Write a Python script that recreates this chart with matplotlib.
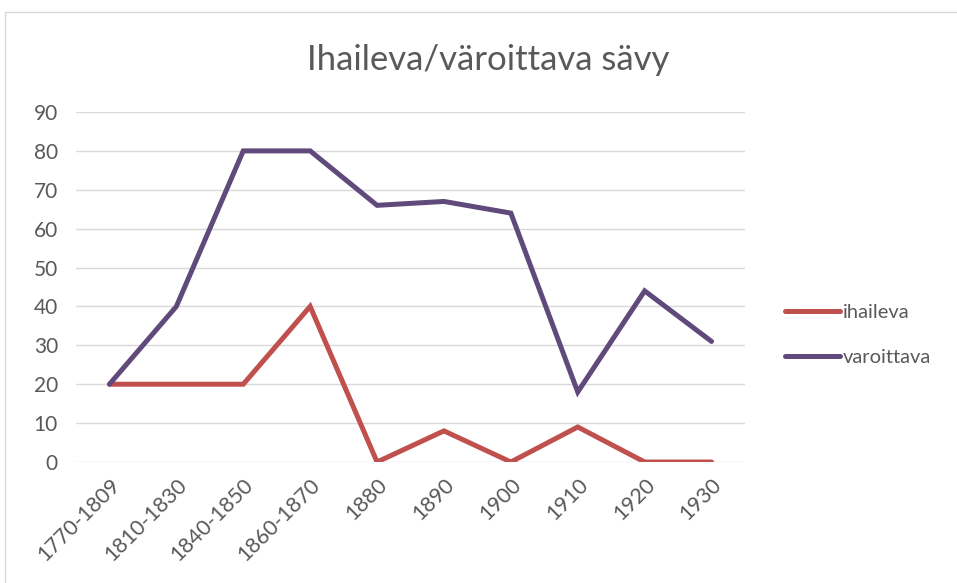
import matplotlib.pyplot as plt
from matplotlib.patches import Rectangle

categories = ["1770-1809", "1810-1830", "1840-1850", "1860-1870", "1880",
              "1890", "1900", "1910", "1920", "1930"]
ihaileva = [20, 20, 20, 40, 0, 8, 0, 9, 0, 0]
varoittava = [20, 40, 80, 80, 66, 67, 64, 18, 44, 31]

plt.rcParams['font.family'] = ['Lato', 'DejaVu Sans']
txt = '#595959'

fig = plt.figure(figsize=(9.57, 5.83), dpi=100)
# chart frame
fig.patches.append(Rectangle((5/957, -0.1), 1.1, (583-12)/583 + 0.1, transform=fig.transFigure,
                             fill=False, edgecolor='#D9D9D9', linewidth=1))
ax = fig.add_axes([76/957, (583-462)/583, 669/957, 350/583])

x = range(len(categories))
ax.plot(x, ihaileva, color='#C0504D', lw=3.6, label='ihaileva', solid_capstyle='round', solid_joinstyle='miter')
ax.plot(x, varoittava, color='#604A7B', lw=3.6, label='varoittava', solid_capstyle='round', solid_joinstyle='miter')

ax.set_xlim(-0.5, len(categories) - 0.5)
ax.set_ylim(0, 90)
ax.set_yticks(range(0, 91, 10))
ax.set_xticks(list(x))
ax.set_xticklabels(categories, rotation=45, ha='right', va='top', rotation_mode='anchor')
ax.tick_params(axis='y', length=0, colors=txt, labelsize=15, pad=13)
ax.tick_params(axis='x', length=0, colors=txt, labelsize=15.5, pad=9)
ax.grid(axis='y', color='#D9D9D9', lw=1)
ax.set_axisbelow(True)
for s in ax.spines.values():
    s.set_visible(False)

fig.text(488/957, 1 - 60/583, "Ihaileva/väroittava sävy", ha='center', va='center',
         fontsize=25, color=txt)

fig.legend(loc='center left', bbox_to_anchor=(785/957, 1 - 335/583), frameon=False,
           fontsize=14.5, labelcolor=txt, handlelength=2.75, handletextpad=0.12,
           labelspacing=1.35, borderpad=0, borderaxespad=0)

fig.savefig('out.png', dpi=100)
